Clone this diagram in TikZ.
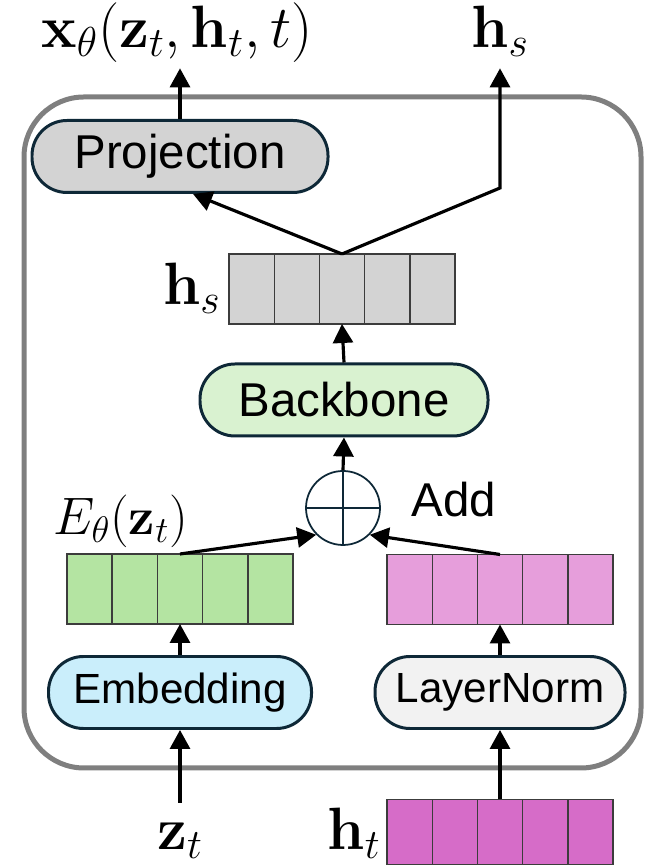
\RequirePackage{fix-cm}
\documentclass[tikz,border=0pt]{standalone}
\usepackage{amsmath}
\usepackage[no-math]{fontspec}
\setmainfont{Liberation Sans}
\usetikzlibrary{arrows.meta,calc}

\definecolor{boxline}{RGB}{14,40,55}
\definecolor{framegray}{RGB}{127,127,127}
\definecolor{cellline}{RGB}{60,60,60}
\definecolor{projgray}{RGB}{211,211,211}
\definecolor{bbgreen}{RGB}{217,242,208}
\definecolor{embgreen}{RGB}{180,228,162}
\definecolor{lnpink}{RGB}{230,158,219}
\definecolor{htpink}{RGB}{214,108,200}
\definecolor{embblue}{RGB}{202,238,251}
\definecolor{lngray}{RGB}{242,242,242}

\tikzset{
  block/.style={draw=boxline, line width=1.7pt, rounded corners=0.7cm, minimum height=1.44cm, inner sep=0pt},
  bigtxt/.style={font=\fontsize{27}{30}\selectfont},
  smalltxt/.style={font=\fontsize{24}{28}\selectfont},
  vec/.style={draw=cellline, line width=0.8pt, minimum width=4.52cm, minimum height=1.4cm, inner sep=0pt, outer sep=0pt},
  mathlbl/.style={font=\fontsize{34}{40}\selectfont, inner sep=0pt},
  arr/.style={line width=1.8pt, -{Triangle[length=0.38cm,width=0.4cm]}},
}

\begin{document}
\begin{tikzpicture}
\useasboundingbox (0,0) rectangle (12.92,17.3);
% outer frame
\draw[framegray, line width=0.1cm, rounded corners=1.2cm] (0.48,1.94) rectangle (12.82,15.36);

% blocks
\node[block, bigtxt, fill=projgray, minimum width=5.92cm] (proj) at (3.6,14.17) {Projection};
\node[block, bigtxt, fill=bbgreen, minimum width=5.76cm] (backbone) at (6.88,9.3) {Backbone};
\node[block, smalltxt, fill=embblue, minimum width=5.26cm] (embed) at (3.6,3.45) {Embedding};
\node[block, smalltxt, fill=lngray, minimum width=5.0cm] (lnorm) at (10,3.45) {LayerNorm};

% add
\node[circle, draw=boxline, line width=1pt, fill=white, minimum size=1.48cm] (add) at (6.86,7.14) {};
\draw[boxline, line width=1pt] (add.north) -- (add.south) (add.west) -- (add.east);
\node[bigtxt, anchor=west, inner sep=0pt] (addlbl) at (8.22,7.3) {Add};

% vectors
\node[vec, fill=projgray] (hsvec) at (6.84,11.52) {};
\node[vec, fill=embgreen] (evec) at (3.6,5.52) {};
\node[vec, fill=lnpink] (lvec) at (10,5.51) {};
\node[vec, fill=htpink, minimum height=1.3cm] (htvec) at (10,0.66) {};
\foreach \v in {hsvec,evec,lvec,htvec}
  \foreach \i in {1,...,4}
    \draw[cellline, line width=0.8pt] ($(\v.north west)!\i/5!(\v.north east)$) -- ($(\v.south west)!\i/5!(\v.south east)$);

% labels
\node[mathlbl, text depth=0.4cm, anchor=base] (xout) at (3.54,16.34) {$\mathbf{x}_\theta(\mathbf{z}_t,\mathbf{h}_t,t)$};
\node[mathlbl, text depth=0.4cm, anchor=base] (hsout) at (10,16.34) {$\mathbf{h}_s$};
\node[mathlbl, anchor=base east] (hslbl) at (4.42,11.2) {$\mathbf{h}_s$};
\node[mathlbl, font=\fontsize{30}{36}\selectfont, anchor=base west] (elbl) at (1.06,6.6) {$E_\theta(\mathbf{z}_t)$};
\node[mathlbl, anchor=base] (ztlbl) at (3.6,0.3) {$\mathbf{z}_t$};
\node[mathlbl, anchor=base east] (htlbl) at (7.62,0.3) {$\mathbf{h}_t$};

% connectors
\coordinate (ztin) at (3.6,1.24);
\coordinate (bend) at (10,13.54);
\draw[arr] (ztin) -- (embed.south);
\draw[arr] (embed.north) -- (evec.south);
\draw[arr] (htvec.north) -- (lnorm.south);
\draw[arr] (lnorm.north) -- (lvec.south);
\draw[arr] (evec.north) -- (add.south west);
\draw[arr] (lvec.north) -- (add.south east);
\draw[arr] (add.north) -- (backbone.south);
\draw[arr] (backbone.north) -- (hsvec.south);
\draw[arr] (hsvec.north) -- ([xshift=0.26cm]proj.south);
\draw[arr] (hsvec.north) -- (bend) -- (hsout.south);
\draw[arr] (proj.north) -- (proj.north |- xout.south);
\end{tikzpicture}
\end{document}
